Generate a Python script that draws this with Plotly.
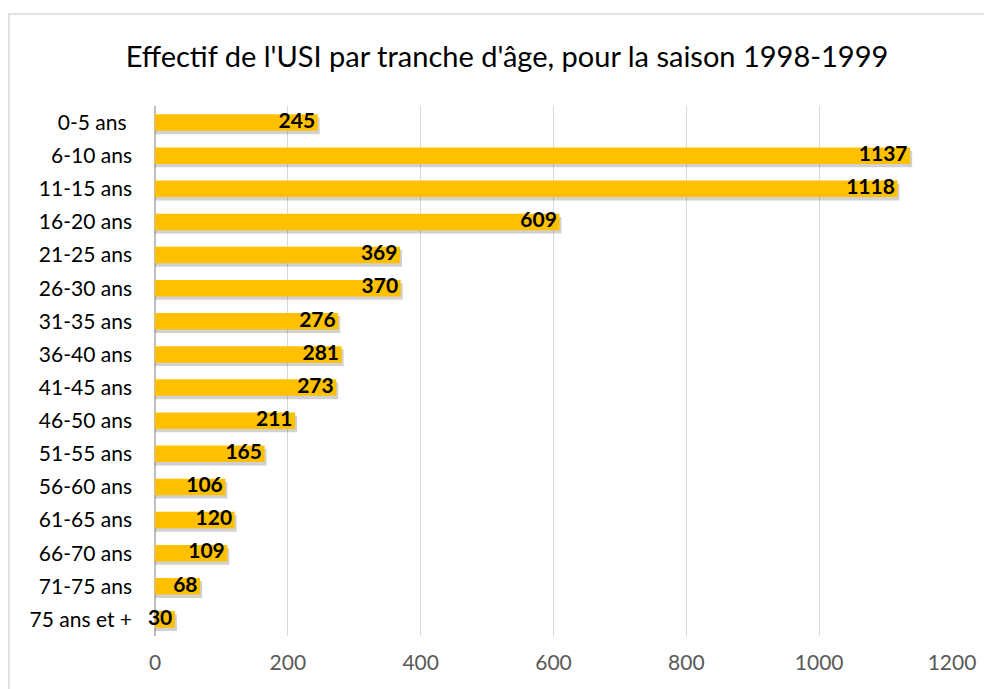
import plotly.graph_objects as go

categories = ["0-5 ans\u00a0", "6-10 ans", "11-15 ans", "16-20 ans", "21-25 ans", "26-30 ans",
              "31-35 ans", "36-40 ans", "41-45 ans", "46-50 ans", "51-55 ans", "56-60 ans",
              "61-65 ans", "66-70 ans", "71-75 ans", "75 ans et +"]
values = [245, 1137, 1118, 609, 369, 370, 276, 281, 273, 211, 165, 106, 120, 109, 68, 30]
x_ticks = [0, 200, 400, 600, 800, 1000, 1200]

# page shows an 8px body margin; compensate
OFF = 8
W, H = 992 - OFF, 689 - OFF
L, T = 155 - OFF, 106 - OFF
R = W - (952 - OFF)
B = H - (636 - OFF)
pw, ph = W - L - R, H - T - B

FONT = "Lato, Carlito, sans-serif"

fig = go.Figure()
# soft shadow
fig.add_trace(go.Bar(
    y=categories, x=[v + 3 for v in values], orientation="h",
    width=0.5, offset=-0.25 + 0.1,
    marker=dict(color="rgba(0,0,0,0.18)", line=dict(width=0)),
    hoverinfo="skip", showlegend=False))
fig.add_trace(go.Bar(
    y=categories, x=values, orientation="h",
    width=0.5, offset=-0.25,
    marker=dict(color="#FFC000", line=dict(width=0)),
    showlegend=False))
# value labels anchored at the bar ends
fig.add_trace(go.Scatter(
    y=categories, x=values, mode="text",
    text=[f"<b>{v}</b>\u2009" for v in values],
    textposition="middle left",
    textfont=dict(family=FONT, size=21, color="black"),
    cliponaxis=False, hoverinfo="skip", showlegend=False))

fig.update_layout(
    width=W, height=H, barmode="overlay",
    margin=dict(l=L, r=R, t=T, b=B, autoexpand=False),
    paper_bgcolor="white", plot_bgcolor="white",
    font=dict(family=FONT, size=21, color="black"),
    title=dict(text="Effectif de l'USI par tranche d'âge, pour la saison 1998-1999",
               x=(507 - OFF) / W, xanchor="center", y=1 - (57 - OFF) / H, yanchor="middle",
               font=dict(size=29, color="black")),
    xaxis=dict(range=[0, 1200], tickvals=x_ticks, showgrid=True, gridcolor="#d9d9d9",
               gridwidth=1.3, zeroline=True, zerolinecolor="#bfbfbf", zerolinewidth=1.5,
               tickfont=dict(size=21, color="#595959"), ticks="", ticklabelstandoff=12,
               fixedrange=True),
    yaxis=dict(range=[len(categories) - 0.5, -0.5], showgrid=False, ticks="",
               tickfont=dict(size=21, color="black"), ticklabelstandoff=22),
    shapes=[dict(type="rect", xref="paper", yref="paper",
                 x0=(9 - OFF - L) / pw, x1=(1015 - L) / pw,
                 y0=-0.3, y1=(H - B - (14 - OFF)) / ph,
                 line=dict(color="#d9d9d9", width=1.5), fillcolor="rgba(0,0,0,0)",
                 layer="below")],
)

fig.write_html("out.html")
